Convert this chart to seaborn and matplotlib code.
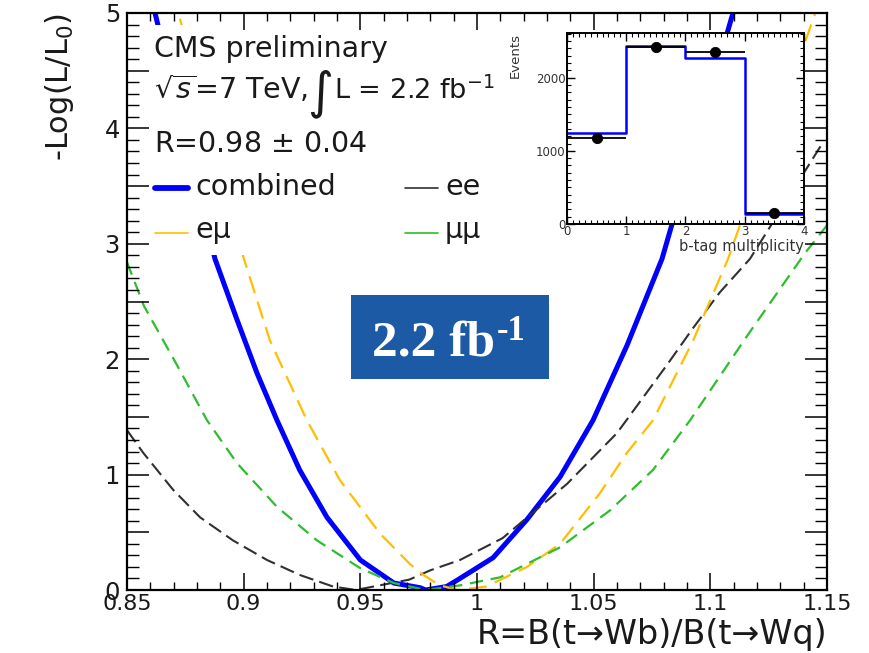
import numpy as np
import matplotlib
matplotlib.use("Agg")
import matplotlib.pyplot as plt
from matplotlib.ticker import MultipleLocator, FuncFormatter
from matplotlib.patches import Rectangle
from matplotlib.lines import Line2D
import seaborn as sns

# -log(L/L0) likelihood scans versus R = B(t->Wb)/B(t->Wq)
r_combined = [0.862, 0.8877, 0.897, 0.9057, 0.9143, 0.924, 0.9357, 0.950, 0.9644,
              0.9756, 0.978, 0.987, 0.9927, 1.0069, 1.0214, 1.0356, 1.0497, 1.0643,
              1.0793, 1.1097]
nll_combined = [5.0, 2.87, 2.35, 1.88, 1.47, 1.04, 0.63, 0.26, 0.06,
                0.02, 0.0, 0.03, 0.10, 0.28, 0.61, 0.98, 1.47, 2.12,
                2.87, 5.0]

r_ee = [0.85, 0.8569, 0.8697, 0.8813, 0.8954, 0.91, 0.9241, 0.9383, 0.948,
        0.971, 0.9799, 0.9927, 1.011, 1.0245, 1.0386, 1.06, 1.0814, 1.0926,
        1.1041, 1.117, 1.148]
nll_ee = [1.385, 1.19, 0.87, 0.63, 0.43, 0.26, 0.13, 0.03, 0.0,
          0.09, 0.17, 0.26, 0.45, 0.68, 0.92, 1.36, 1.95, 2.27,
          2.58, 2.87, 3.87]

r_emu = [0.8727, 0.9001, 0.9113, 0.9271, 0.9413, 0.9584, 0.971, 0.9756, 0.984,
         0.992, 1.004, 1.0214, 1.0356, 1.0527, 1.0643, 1.0754, 1.0926, 1.1076,
         1.145]
nll_emu = [4.95, 2.87, 2.16, 1.47, 0.95, 0.49, 0.23, 0.15, 0.04,
           0.0, 0.03, 0.2, 0.4, 0.84, 1.19, 1.47, 2.16, 2.87,
           5.0]

r_mumu = [0.85, 0.8573, 0.8714, 0.8843, 0.8971, 0.9143, 0.9314, 0.9499, 0.9644,
          0.978, 0.9927, 1.0099, 1.0356, 1.057, 1.0754, 1.0913, 1.1157, 1.1406,
          1.15]
nll_mumu = [2.84, 2.46, 1.95, 1.47, 1.10, 0.72, 0.43, 0.19, 0.06,
            0.0, 0.04, 0.11, 0.37, 0.69, 1.04, 1.47, 2.2, 2.92,
            3.16]

# b-tag multiplicity: data and fitted expectation
btag_edges = [0, 1, 2, 3, 4]
btag_centers = [0.5, 1.5, 2.5, 3.5]
btag_data = [1170, 2420, 2350, 145]
btag_fit = [1250, 2430, 2275, 135]

sns.set_style("ticks")
plt.rcParams["font.family"] = ["DejaVu Sans"]
plt.rcParams["mathtext.fontset"] = "dejavusans"

W, H = 870, 653
fig = plt.figure(figsize=(W / 100, H / 100), dpi=100)
fig.patch.set_facecolor("white")


def fx(px):
    return px / W


def fy(py):
    return 1 - py / H


ax = fig.add_axes([fx(127), fy(590), (827 - 127) / W, (590 - 13) / H])
ax.set_facecolor("white")

BLUE = "#0000FF"
BLACK = "#303030"
ORANGE = "#FFBF00"
GREEN = "#2DBE2D"

sns.lineplot(x=r_combined, y=nll_combined, ax=ax, color=BLUE, lw=3.6,
             estimator=None, sort=False, zorder=2.0)
sns.lineplot(x=r_ee, y=nll_ee, ax=ax, color=BLACK, lw=1.5,
             linestyle=(0, (7, 3)), estimator=None, sort=False, zorder=2.05)
sns.lineplot(x=r_emu, y=nll_emu, ax=ax, color=ORANGE, lw=1.6,
             linestyle=(0, (8, 4)), estimator=None, sort=False, zorder=2.05)
sns.lineplot(x=r_mumu, y=nll_mumu, ax=ax, color=GREEN, lw=1.6,
             linestyle=(0, (6, 3.5)), estimator=None, sort=False, zorder=2.05)

ax.set_xlim(0.85, 1.15)
ax.set_ylim(0, 5)
ax.xaxis.set_major_locator(MultipleLocator(0.05))
ax.xaxis.set_minor_locator(MultipleLocator(0.01))
ax.yaxis.set_major_locator(MultipleLocator(0.5))
ax.yaxis.set_minor_locator(MultipleLocator(0.1))
ax.xaxis.set_major_formatter(FuncFormatter(lambda v, p: f"{v:g}"))
ax.yaxis.set_major_formatter(
    FuncFormatter(lambda v, p: f"{v:g}" if abs(v - round(v)) < 1e-6 else ""))

ax.set_axisbelow(False)
ax.tick_params(which="both", direction="in", top=True, right=True,
               color="black", labelcolor="#1a1a1a")
ax.tick_params(axis="y", which="major", length=16, width=1.1, labelsize=17.5, pad=5)
ax.tick_params(axis="y", which="minor", length=8.5, width=1.0)
ax.tick_params(axis="x", which="major", length=12, width=1.1, labelsize=16, pad=3)
ax.tick_params(axis="x", which="minor", length=6, width=1.0)
for s in ax.spines.values():
    s.set_color("black")
    s.set_linewidth(1.6)

ax.set_xlabel("R=B(t\u2192Wb)/B(t\u2192Wq)", fontsize=24,
              loc="right", color="#1a1a1a")
ax.xaxis.set_label_coords(1.0, -(618 - 590) / 577)
ax.set_ylabel(r"-Log(L/L$_0$)", fontsize=22, loc="top", color="#1a1a1a")
ax.yaxis.set_label_coords((76 - 127) / 700, 1.0)

# white panel behind the legend text
ax.add_patch(Rectangle((fx(129), fy(255)), fx(560) - fx(129), fy(25) - fy(255),
                       transform=fig.transFigure, facecolor="white",
                       edgecolor="none", zorder=2.2))

TXT = "#1a1a1a"
fs = 20.5
fig.text(fx(154), fy(57), "CMS preliminary", fontsize=fs, color=TXT, va="baseline")
fig.text(fx(154), fy(99), r"$\sqrt{s}$=7 TeV,", fontsize=fs, color=TXT, va="baseline")
fig.text(fx(307), fy(107), "\u222b", fontsize=36, color=TXT, va="baseline")
fig.text(fx(334), fy(99), r"L = 2.2 fb$^{-1}$", fontsize=19.5, color=TXT, va="baseline")
fig.text(fx(154), fy(152), r"R=0.98 $\pm$ 0.04", fontsize=fs, color=TXT, va="baseline")

legend_rows = [
    ("combined", BLUE, 4.2, 155, 188, 195),
    ("ee", BLACK, 1.2, 405, 188, 195),
    ("e\u03bc", ORANGE, 1.2, 155, 233, 238),
    ("\u03bc\u03bc", GREEN, 1.2, 405, 233, 238),
]
for label, col, lw, x0, yl, yb in legend_rows:
    fig.add_artist(Line2D([fx(x0), fx(x0 + 33)], [fy(yl), fy(yl)], color=col,
                          lw=lw, transform=fig.transFigure))
    fig.text(fx(x0 + 40), fy(yb), label, fontsize=fs, color=TXT, va="baseline")

# inset: b-tag multiplicity
axin = fig.add_axes([fx(567), fy(224), (804 - 567) / W, (224 - 33) / H])
axin.set_facecolor("white")
sns.histplot(x=btag_centers, weights=btag_fit, bins=btag_edges, element="step",
             fill=False, color=BLUE, lw=1.8, ax=axin)
axin.errorbar(btag_centers, btag_data, xerr=0.5, yerr=np.sqrt(btag_data),
              fmt="none", ecolor="black", elinewidth=1.3, zorder=3)
sns.scatterplot(x=btag_centers, y=btag_data, ax=axin, color="black", s=55,
                edgecolor="black", zorder=4)
axin.set_xlim(0, 4)
axin.set_ylim(0, 2610)
axin.xaxis.set_major_locator(MultipleLocator(1))
axin.xaxis.set_minor_locator(MultipleLocator(0.1))
axin.yaxis.set_major_locator(MultipleLocator(1000))
axin.yaxis.set_minor_locator(MultipleLocator(100))
axin.tick_params(which="both", direction="in", top=True, right=True,
                 color="black", labelcolor="#333333", labelsize=8.5)
axin.tick_params(which="major", length=6, width=1.0)
axin.tick_params(which="minor", length=3, width=0.8)
axin.tick_params(axis="x", pad=1)
axin.tick_params(axis="y", pad=1)
for s in axin.spines.values():
    s.set_color("black")
    s.set_linewidth(1.4)
axin.set_ylabel("Events", fontsize=9.5, loc="top", color="#333333")
axin.yaxis.set_label_coords((522 - 567) / 237, 1.0)
axin.set_xlabel("b-tag multiplicity", fontsize=10.5, loc="right", color="#333333")
axin.xaxis.set_label_coords(1.0, -(239 - 224) / 191)

# luminosity badge
fig.add_artist(Rectangle((fx(351), fy(379)), (549 - 351) / W, (379 - 295) / H,
                         transform=fig.transFigure, facecolor="#1C5AA6",
                         edgecolor="none", zorder=3))
fig.text(fx(372), fy(355), "2.2 fb", fontsize=37, family="Liberation Serif",
         weight="bold", color="white", va="baseline", zorder=4)
fig.text(fx(497), fy(340), "-1", fontsize=25, family="Liberation Serif",
         weight="bold", color="white", va="baseline", zorder=4)

fig.savefig("out.png", dpi=100, facecolor="white")
